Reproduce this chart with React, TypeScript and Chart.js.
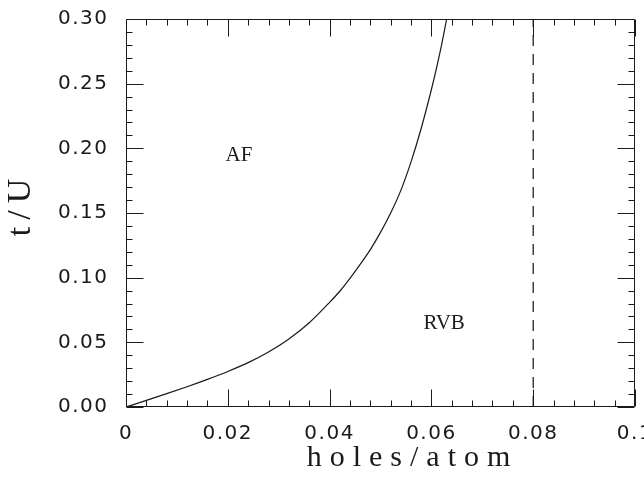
import React, { useEffect, useRef } from "react";
import { Chart, registerables, LinearScale } from "chart.js";

Chart.register(...registerables);

// ---- data ----
const curveX = [0, 0.004, 0.008, 0.012, 0.016, 0.02, 0.024, 0.028, 0.032, 0.036, 0.04, 0.042, 0.044, 0.046, 0.048, 0.05, 0.052, 0.054, 0.056, 0.058, 0.06, 0.061, 0.062, 0.063];
const curveY = [0, 0.0051, 0.0103, 0.0157, 0.0214, 0.0275, 0.0343, 0.0425, 0.0525, 0.0651, 0.0809, 0.0895, 0.0995, 0.1103, 0.1217, 0.135, 0.15, 0.1675, 0.1895, 0.2155, 0.2455, 0.262, 0.28, 0.3];
const dashedX = [0.08, 0.08];
const dashedY = [0, 0.3];

const xTickValues = [0, 0.02, 0.04, 0.06, 0.08, 0.1];
const xTickLabels = ["0", "0.02", "0.04", "0.06", "0.08", "0.1"];
const yTickValues = [0, 0.05, 0.1, 0.15, 0.2, 0.25, 0.3];
const yTickLabels = ["0.00", "0.05", "0.10", "0.15", "0.20", "0.25", "0.30"];
const minorPerMajor = 5;

const xTitle = "holes/atom";
const yTitle = "t/U";
const regionLabels = ["AF", "RVB"];
const regionX = [0.0222, 0.0625];
const regionY = [0.1945, 0.0642];

// ---- styling ----
const INK = "#1a1a1a";
const SERIF = "'Liberation Serif', 'Times New Roman', serif";
const SANS = "'DejaVu Sans', sans-serif";

const extra: Record<string, { titleLS: number; labelLS: number; tx: number; ty: number }> = {
  x: { titleLS: 8, labelLS: 1.5, tx: 32, ty: 0 },
  y: { titleLS: 7, labelLS: 1.5, tx: 0, ty: -9 },
};

class SpacedLinearScale extends LinearScale {
  static id = "spacedLinear";
  drawTitle() {
    const ctx = this.ctx as any;
    const e = extra[this.id] || { titleLS: 0, labelLS: 0, tx: 0, ty: 0 };
    ctx.save();
    ctx.letterSpacing = e.titleLS + "px";
    ctx.translate(e.tx, e.ty);
    super.drawTitle();
    ctx.restore();
  }
  drawLabels(chartArea: any) {
    const ctx = this.ctx as any;
    const e = extra[this.id] || { titleLS: 0, labelLS: 0, tx: 0, ty: 0 };
    ctx.save();
    ctx.letterSpacing = e.labelLS + "px";
    super.drawLabels(chartArea);
    ctx.restore();
  }
}
Chart.register(SpacedLinearScale as any);

function minorValues(majors: number[]): number[] {
  const out: number[] = [];
  for (let i = 0; i < majors.length - 1; i++) {
    const step = (majors[i + 1] - majors[i]) / minorPerMajor;
    for (let k = 1; k < minorPerMajor; k++) out.push(majors[i] + k * step);
  }
  return out;
}

const frameTicksPlugin = {
  id: "frameTicks",
  afterDatasetsDraw(chart: any) {
    const { ctx, chartArea: a, scales } = chart;
    const x = scales.x;
    const y = scales.y;
    const L = Math.round(a.left) + 0.5;
    const R = Math.round(a.right) - 0.5;
    const T = Math.round(a.top) + 0.5;
    const B = Math.round(a.bottom) - 0.5;
    ctx.save();
    ctx.strokeStyle = INK;
    ctx.lineWidth = 1;
    ctx.beginPath();
    ctx.rect(L, T, R - L, B - T);
    const major = 17;
    const minor = 6;
    const xt = (v: number, len: number) => {
      const p = Math.round(x.getPixelForValue(v)) + 0.5;
      ctx.moveTo(p, B);
      ctx.lineTo(p, B - len);
      ctx.moveTo(p, T);
      ctx.lineTo(p, T + len);
    };
    const yt = (v: number, len: number) => {
      const p = Math.round(y.getPixelForValue(v)) + 0.5;
      ctx.moveTo(L, p);
      ctx.lineTo(L + len, p);
      ctx.moveTo(R, p);
      ctx.lineTo(R - len, p);
    };
    xTickValues.forEach((v) => xt(v, major));
    minorValues(xTickValues).forEach((v) => xt(v, minor));
    yTickValues.forEach((v) => yt(v, major));
    minorValues(yTickValues).forEach((v) => yt(v, minor));
    ctx.stroke();

    ctx.fillStyle = INK;
    ctx.font = `21px ${SERIF}`;
    ctx.textAlign = "center";
    ctx.textBaseline = "middle";
    regionLabels.forEach((t, i) => {
      ctx.fillText(t, x.getPixelForValue(regionX[i]), y.getPixelForValue(regionY[i]));
    });
    ctx.restore();
  },
};

export default function App() {
  const canvasRef = useRef<HTMLCanvasElement | null>(null);

  useEffect(() => {
    if (!canvasRef.current) return;
    const chart = new Chart(canvasRef.current, {
      type: "scatter",
      data: {
        datasets: [
          {
            label: "boundary",
            data: curveX.map((v, i) => ({ x: v, y: curveY[i] })),
            showLine: true,
            borderColor: INK,
            borderWidth: 1.2,
            pointRadius: 0,
            cubicInterpolationMode: "monotone",
            fill: false,
          },
          {
            label: "dashed",
            data: dashedX.map((v, i) => ({ x: v, y: dashedY[i] })),
            showLine: true,
            borderColor: "#111",
            borderWidth: 1.2,
            borderDash: [11, 8],
            pointRadius: 0,
            fill: false,
          },
        ],
      },
      options: {
        animation: false,
        responsive: false,
        events: [],
        layout: { padding: { top: 19, right: 9, left: 0, bottom: 0 }, autoPadding: false } as any,
        plugins: { legend: { display: false }, tooltip: { enabled: false } },
        scales: {
          x: {
            type: "spacedLinear" as any,
            min: 0,
            max: 0.1,
            grid: { display: false, drawTicks: false },
            border: { display: false },
            afterBuildTicks: (s: any) => {
              s.ticks = xTickValues.map((v) => ({ value: v }));
            },
            afterFit: (s: any) => {
              s.height = 70;
              s.paddingLeft = 0;
              s.paddingRight = 0;
              s.paddingTop = 0;
              s.paddingBottom = 0;
            },
            ticks: {
              autoSkip: false,
              maxRotation: 0,
              padding: 14.5,
              color: INK,
              font: { family: SANS, size: 20 },
              callback: (_v: any, i: number) => xTickLabels[i],
            },
            title: {
              display: true,
              text: xTitle,
              color: INK,
              font: { family: SERIF, size: 30 },
              padding: { top: 0, bottom: 1 },
            },
          } as any,
          y: {
            type: "spacedLinear" as any,
            min: 0,
            max: 0.3,
            grid: { display: false, drawTicks: false },
            border: { display: false },
            afterBuildTicks: (s: any) => {
              s.ticks = yTickValues.map((v) => ({ value: v }));
            },
            afterFit: (s: any) => {
              s.width = 126;
              s.paddingLeft = 0;
              s.paddingRight = 0;
              s.paddingTop = 0;
              s.paddingBottom = 0;
            },
            ticks: {
              autoSkip: false,
              padding: 17.5,
              color: INK,
              font: { family: SANS, size: 20 },
              callback: (_v: any, i: number) => yTickLabels[i],
            },
            title: {
              display: true,
              text: yTitle,
              color: INK,
              font: { family: SERIF, size: 34 },
              padding: { top: 1, bottom: 0 },
            },
          } as any,
        },
      },
      plugins: [frameTicksPlugin],
    });
    return () => chart.destroy();
  }, []);

  return (
    <div style={{ position: "absolute", left: 0, top: 0, width: 644, height: 477, background: "#fff" }}>
      <canvas ref={canvasRef} width={644} height={477} style={{ display: "block" }} />
    </div>
  );
}
